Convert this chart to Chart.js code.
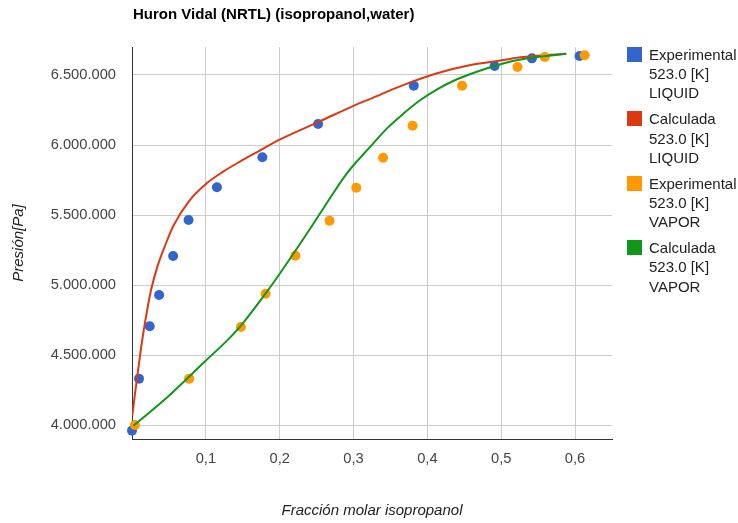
<!DOCTYPE html>
<html>
<head>
<meta charset="utf-8">
<script src="https://cdn.jsdelivr.net/npm/chart.js@4.4.1/dist/chart.umd.min.js"></script>
<style>
  body { margin: 0; background: #fff; }
  #wrap { position: relative; width: 738px; height: 523px; font-family: "Liberation Sans", Arial, sans-serif; }
  #title { position: absolute; left: 133px; top: 5px; font-size: 15px; line-height: 18px; font-weight: bold; color: #000; white-space: nowrap; }
  #legend { position: absolute; left: 627px; top: 47px; }
  #legend .item { position: absolute; left: 0; width: 110px; }
  #legend .swatch { position: absolute; left: 0; top: 0; width: 15px; height: 15px; }
  #legend .text { position: absolute; left: 22px; top: -2px; font-size: 15px; line-height: 19.2px; color: #222; white-space: nowrap; }
</style>
</head>
<body>
<div id="wrap">
  <canvas id="chart" width="738" height="523"></canvas>
  <div id="title">Huron Vidal (NRTL) (isopropanol,water)</div>
  <div id="legend"></div>
</div>
<script>
// Experimental liquid points (x isopropanol, pressure Pa)
const liqExpX = [0.0, 0.0095, 0.024, 0.0367, 0.0557, 0.0766, 0.115, 0.1765, 0.252, 0.3815, 0.491, 0.5416, 0.606];
const liqExpP = [3960000, 4331000, 4705000, 4929000, 5207000, 5464000, 5698000, 5912000, 6150000, 6424000, 6564000, 6619000, 6636000];

// Calculated liquid curve
const liqCalcX = [0.0005, 0.0041, 0.0077, 0.0132, 0.019, 0.0258, 0.0349, 0.0462, 0.0557, 0.0783, 0.101, 0.1235, 0.146, 0.173, 0.2005, 0.2548, 0.3, 0.3227, 0.368, 0.4132, 0.4584, 0.5036, 0.5263, 0.588];
const liqCalcP = [4070000, 4226000, 4369000, 4584000, 4774000, 4964000, 5140000, 5300000, 5420000, 5607000, 5726000, 5810000, 5881000, 5960000, 6040000, 6170000, 6280000, 6330000, 6429000, 6512000, 6571000, 6607000, 6626000, 6652000];

// Experimental vapor points
const vapExpX = [0.004, 0.0774, 0.1475, 0.181, 0.2213, 0.2675, 0.3037, 0.34, 0.38, 0.447, 0.522, 0.559, 0.613];
const vapExpP = [4000000, 4331000, 4700000, 4938000, 5209000, 5459000, 5695000, 5909000, 6138000, 6424000, 6557000, 6629000, 6641000];

// Calculated vapor curve
const vapCalcX = [0.002, 0.0485, 0.0983, 0.13, 0.1475, 0.181, 0.2005, 0.231, 0.2548, 0.291, 0.3227, 0.3453, 0.368, 0.3905, 0.4132, 0.4357, 0.4584, 0.481, 0.5036, 0.5263, 0.588];
const vapCalcP = [3995000, 4202000, 4452000, 4610000, 4710000, 4940000, 5084000, 5321000, 5512000, 5798000, 5988000, 6119000, 6226000, 6321000, 6398000, 6459000, 6507000, 6548000, 6584000, 6611000, 6652000];

const seriesLabels = [
  ['Experimental', '523.0 [K]', 'LIQUID'],
  ['Calculada', '523.0 [K]', 'LIQUID'],
  ['Experimental', '523.0 [K]', 'VAPOR'],
  ['Calculada', '523.0 [K]', 'VAPOR']
];
const seriesColors = ['#3366cc', '#dc3912', '#ff9900', '#109618'];

const xTicks = [0.1, 0.2, 0.3, 0.4, 0.5, 0.6];
const yTicks = [4000000, 4500000, 5000000, 5500000, 6000000, 6500000];

const FONT = '"Liberation Sans", Arial, sans-serif';

function toPoints(xs, ys) {
    return xs.map((x, i) => ({ x: x, y: ys[i] }));
}

function pointSet(i, xs, ys, order) {
    return {
        label: seriesLabels[i].join(' '),
        data: toPoints(xs, ys),
        backgroundColor: seriesColors[i],
        borderColor: seriesColors[i],
        pointRadius: 5,
        pointHoverRadius: 6,
        pointBorderWidth: 0,
        showLine: false,
        clip: false,
        order: order
    };
}

function lineSet(i, xs, ys, order) {
    return {
        label: seriesLabels[i].join(' '),
        data: toPoints(xs, ys),
        backgroundColor: seriesColors[i],
        borderColor: seriesColors[i],
        borderWidth: 2,
        pointRadius: 0,
        showLine: true,
        cubicInterpolationMode: 'monotone',
        order: order
    };
}

const chart = new Chart(document.getElementById('chart'), {
    type: 'scatter',
    data: {
        datasets: [
            pointSet(0, liqExpX, liqExpP, 4),
            lineSet(1, liqCalcX, liqCalcP, 3),
            pointSet(2, vapExpX, vapExpP, 2),
            lineSet(3, vapCalcX, vapCalcP, 1)
        ]
    },
    options: {
        responsive: false,
        animation: false,
        layout: { padding: { top: 47, right: 126, left: 0, bottom: 0 } },
        plugins: {
            legend: { display: false },
            title: { display: false }
        },
        scales: {
            x: {
                type: 'linear',
                min: 0,
                max: 0.65,
                afterBuildTicks: axis => { axis.ticks = xTicks.map(v => ({ value: v })); },
                afterFit: axis => { axis.height = 84; },
                grid: { color: '#cccccc', drawTicks: false },
                border: { color: '#333333', width: 1 },
                ticks: {
                    padding: 11,
                    color: '#444444',
                    font: { family: FONT, size: 14.7 },
                    maxRotation: 0,
                    callback: v => v.toFixed(1).replace('.', ',')
                },
                title: {
                    display: true,
                    text: 'Fracción molar isopropanol',
                    color: '#222222',
                    font: { family: FONT, size: 15, style: 'italic' },
                    padding: { top: 0, bottom: 3 }
                }
            },
            y: {
                type: 'linear',
                min: 3900000,
                max: 6700000,
                afterBuildTicks: axis => { axis.ticks = yTicks.map(v => ({ value: v })); },
                afterFit: axis => { axis.width = 132; },
                grid: { color: '#cccccc', drawTicks: false },
                border: { color: '#333333', width: 1 },
                ticks: {
                    padding: 16,
                    color: '#444444',
                    font: { family: FONT, size: 14.7 },
                    callback: v => String(v).replace(/\B(?=(\d{3})+(?!\d))/g, '.')
                },
                title: {
                    display: true,
                    text: 'Presión[Pa]',
                    color: '#222222',
                    font: { family: FONT, size: 15, style: 'italic' },
                    padding: { top: 9.5, bottom: 0 }
                }
            }
        }
    }
});

// HTML legend built from the chart's datasets
const legendBox = document.getElementById('legend');
chart.data.datasets.forEach((ds, i) => {
    const item = document.createElement('div');
    item.className = 'item';
    item.style.top = (i * 64.4) + 'px';
    const swatch = document.createElement('span');
    swatch.className = 'swatch';
    swatch.style.background = ds.borderColor;
    const text = document.createElement('div');
    text.className = 'text';
    text.innerHTML = seriesLabels[i].join('<br>');
    item.appendChild(swatch);
    item.appendChild(text);
    legendBox.appendChild(item);
});
</script>
</body>
</html>
